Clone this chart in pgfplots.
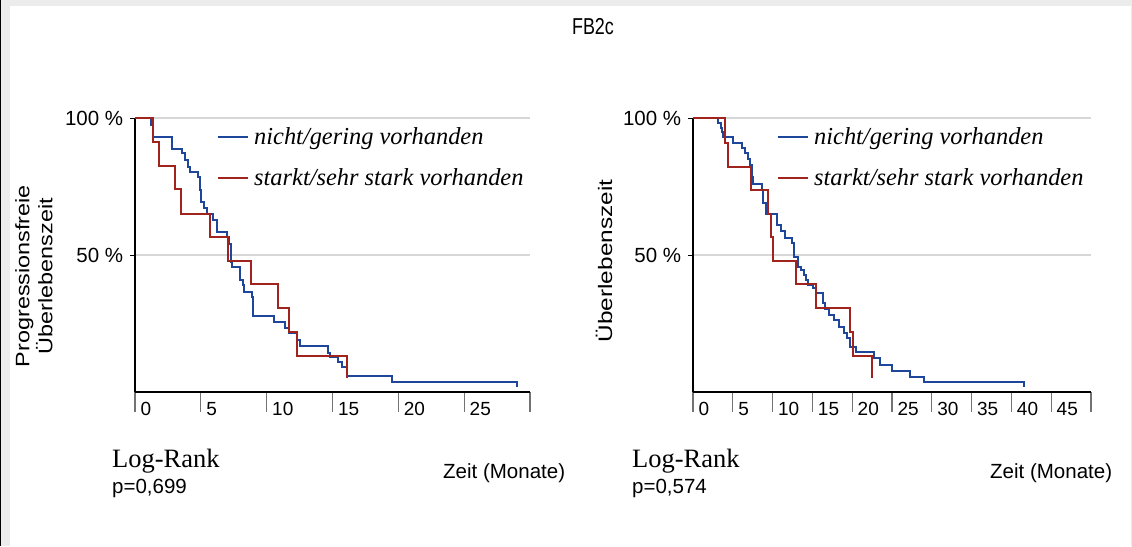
\documentclass[border=0pt]{standalone}
\usepackage{pgfplots}
\pgfplotsset{compat=1.18}
\usepackage{fontspec}
\setmainfont{Liberation Sans}
\newfontfamily\timesfont{Liberation Serif}
\definecolor{kmblue}{RGB}{30,70,155}
\definecolor{kmred}{RGB}{160,35,30}
\definecolor{gridgray}{RGB}{215,215,215}
\definecolor{bordergray}{RGB}{236,236,236}
\pgfplotsset{
 kmaxis/.style={
  scale only axis, height=274pt, ymin=0, ymax=100,
  clip=false,
  axis x line*=bottom, axis y line*=left,
  x axis line style={line width=1.6pt, black, -},
  y axis line style={line width=1.2pt, black, -},
  ytick={50,100}, yticklabels={50 \%,100 \%},
  ymajorgrids, grid style={gridgray, line width=1.5pt},
  tick align=outside,
  ytick style={black, line width=1pt, /pgfplots/major tick length=5pt},
  xtick style={black!55, line width=1.2pt, /pgfplots/major tick length=20pt},
  /pgf/number format/assume math mode=true,
  ticklabel style={font=\fontsize{19pt}{22pt}\selectfont},
  yticklabel style={font=\fontsize{20.5pt}{24pt}\selectfont, xshift=-4pt},
  xticklabel style={anchor=west, xshift=2pt, yshift=-13pt},
  legend style={draw=none, fill=none, anchor=north west,
    font=\timesfont\itshape\fontsize{24.4pt}{28pt}\selectfont,
    row sep=18pt, inner sep=0pt, cells={anchor=west}},
  legend image code/.code={\draw[##1, line width=2pt] (0pt,0pt) -- (30pt,0pt); \path (33pt,0pt);},
 }
}
\begin{document}
\begin{tikzpicture}[x=1pt,y=1pt]
\path[use as bounding box, fill=bordergray] (0,0) rectangle (1132,-546);
\fill[white] (10,-6) rectangle (1131,-546);
\fill[black] (0,0) rectangle (1,-546);
\node[font=\fontsize{23pt}{26pt}\selectfont] at (593,-27) {\scalebox{0.78}[1]{FB2c}};

\begin{axis}[kmaxis, at={(135pt,-392pt)}, anchor=south west, width=395pt,
  xmin=0, xmax=30, xtick={0,5,...,30}, xticklabels={0,5,10,15,20,25,{}},
  legend style={at={(0.2076,0.972)}}]
\addplot[const plot, kmblue, line width=2pt] coordinates {
(0,100)(1.22,97.4)(1.34,93.2)(2.79,88.7)(3.55,87.1)(3.80,84.7)(4.05,82.2)(4.18,80.4)(4.81,78.6)(4.94,73.7)(5.02,69.5)(5.24,67.0)(5.49,65.0)(5.90,62.8)(6.25,58.5)(6.97,56.7)(7.14,54.0)(7.26,47.4)(7.33,45.7)(7.98,40.9)(8.18,39.1)(8.31,36.6)(8.87,34.7)(8.95,27.7)(10.56,25.7)(11.40,23.2)(11.73,21.6)(12.29,19.0)(12.54,16.8)(14.69,14.1)(14.82,12.9)(15.45,11.1)(15.71,9.2)(16.09,5.8)(19.53,3.6)(29.03,1.8)};
\addlegendentry{nicht/gering vorhanden}
\addplot[const plot, kmred, line width=2pt] coordinates {
(0,100)(1.39,91.4)(1.85,82.5)(3.04,74.0)(3.47,65.0)(5.70,56.7)(7.09,47.8)(8.79,39.4)(10.89,30.5)(11.73,22.0)(12.29,13.2)(16.09,5.0)};
\addlegendentry{starkt/sehr stark vorhanden}
\end{axis}

\begin{axis}[kmaxis, at={(693pt,-392pt)}, anchor=south west, width=398pt,
  xmin=0, xmax=50, xtick={0,5,...,50}, xticklabels={0,5,10,15,20,25,30,35,40,45,{}},
  legend style={at={(0.211,0.972)}}]
\addplot[const plot, kmblue, line width=2pt] coordinates {
(0,100)(3.18,98.1)(3.48,96.2)(3.69,95.0)(3.81,93.2)(4.99,91.0)(6.13,88.9)(6.54,87.1)(6.96,84.9)(7.17,82.8)(7.38,78.6)(7.59,75.9)(8.64,73.7)(8.85,68.9)(9.18,65.0)(10.61,60.9)(11.03,58.9)(11.57,56.1)(12.42,54.3)(12.70,49.4)(13.21,45.7)(13.55,44.5)(13.96,42.7)(14.21,40.9)(14.50,39.1)(15.13,37.8)(15.47,36.0)(16.39,32.5)(16.60,30.3)(17.14,28.1)(17.65,26.3)(18.40,23.8)(18.91,21.4)(19.33,19.6)(19.66,16.5)(20.50,14.7)(22.68,12.3)(23.43,9.9)(25.00,7.8)(27.30,5.6)(28.97,3.5)(41.55,1.7)};
\addlegendentry{nicht/gering vorhanden}
\addplot[const plot, kmred, line width=2pt] coordinates {
(0,100)(4.03,91.0)(4.44,82.2)(7.30,73.7)(9.47,65.0)(9.81,56.7)(10.10,47.9)(12.92,39.4)(15.47,30.5)(19.66,22.0)(20.16,13.1)(22.48,5.0)};
\addlegendentry{starkt/sehr stark vorhanden}
\end{axis}

\node[rotate=90, align=center, font=\fontsize{19.5pt}{23pt}\selectfont] at (34,-276) {\scalebox{1.2}[1]{Progressionsfreie}\\\scalebox{1.2}[1]{Überlebenszeit}};
\node[rotate=90, font=\fontsize{19.5pt}{23pt}\selectfont] at (604,-261) {\scalebox{1.25}[1]{Überlebenszeit}};

\node[anchor=west, inner sep=0pt, font=\timesfont\fontsize{26.5pt}{30pt}\selectfont] at (112,-461) {Log-Rank};
\node[anchor=west, inner sep=0pt, font=\fontsize{20.5pt}{24pt}\selectfont] at (112,-488) {p=0,699};
\node[anchor=west, inner sep=0pt, font=\fontsize{20.5pt}{24pt}\selectfont] at (443,-473) {Zeit (Monate)};
\node[anchor=west, inner sep=0pt, font=\timesfont\fontsize{26.5pt}{30pt}\selectfont] at (632,-461) {Log-Rank};
\node[anchor=west, inner sep=0pt, font=\fontsize{20.5pt}{24pt}\selectfont] at (632,-488) {p=0,574};
\node[anchor=west, inner sep=0pt, font=\fontsize{20.5pt}{24pt}\selectfont] at (990,-473) {Zeit (Monate)};
\end{tikzpicture}
\end{document}
